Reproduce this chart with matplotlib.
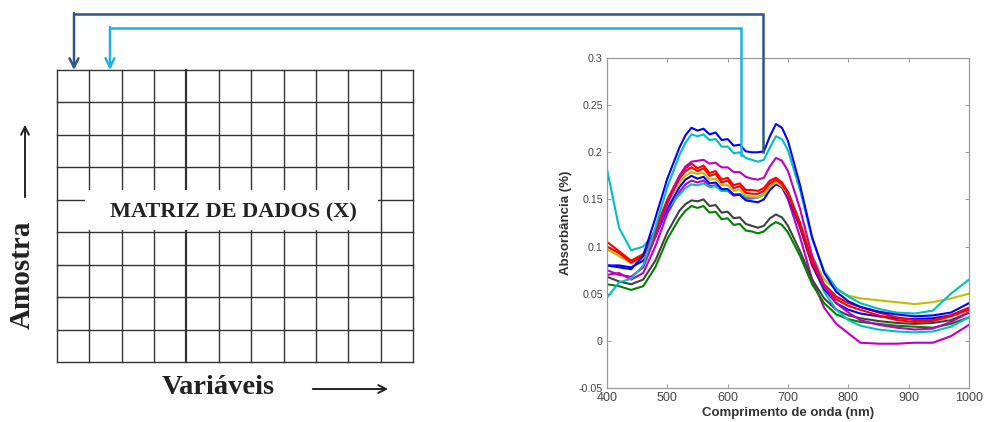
import matplotlib.pyplot as plt
from matplotlib.patches import Rectangle

# comprimentos de onda (nm)
wl = [400, 420, 440, 460, 480, 500, 520, 530, 540, 550, 560, 570, 580, 590, 600, 610, 620, 630, 640,
      650, 660, 670, 680, 690, 700, 720, 740, 760, 780, 800, 820, 850, 880, 910, 940, 970, 1000]

# espectros
blue_a = [0.080, 0.078, 0.076, 0.090, 0.130, 0.172, 0.205, 0.218, 0.226, 0.223, 0.225, 0.219, 0.221, 0.213,
          0.214, 0.207, 0.208, 0.201, 0.200, 0.200, 0.201, 0.217, 0.230, 0.226, 0.212, 0.165, 0.110, 0.072,
          0.052, 0.042, 0.036, 0.031, 0.028, 0.026, 0.027, 0.030, 0.040]
cyan_a = [0.046, 0.062, 0.066, 0.080, 0.120, 0.163, 0.197, 0.210, 0.219, 0.217, 0.219, 0.213, 0.214, 0.206,
          0.206, 0.199, 0.200, 0.194, 0.192, 0.190, 0.192, 0.205, 0.217, 0.214, 0.202, 0.160, 0.108, 0.074,
          0.056, 0.047, 0.040, 0.034, 0.030, 0.029, 0.032, 0.050, 0.065]
magenta_a = [0.075, 0.070, 0.068, 0.078, 0.110, 0.145, 0.175, 0.185, 0.190, 0.191, 0.192, 0.188, 0.189, 0.184,
             0.184, 0.179, 0.179, 0.174, 0.172, 0.171, 0.173, 0.185, 0.194, 0.191, 0.180, 0.140, 0.090, 0.058,
             0.040, 0.030, 0.022, 0.017, 0.014, 0.012, 0.013, 0.020, 0.030]
red_a = [0.105, 0.095, 0.085, 0.092, 0.118, 0.150, 0.175, 0.183, 0.188, 0.183, 0.186, 0.178, 0.180, 0.171,
         0.173, 0.165, 0.167, 0.160, 0.160, 0.159, 0.162, 0.170, 0.173, 0.168, 0.158, 0.125, 0.085, 0.060,
         0.047, 0.040, 0.036, 0.030, 0.025, 0.022, 0.022, 0.027, 0.035]
red_b = [0.100, 0.093, 0.083, 0.090, 0.115, 0.147, 0.172, 0.180, 0.184, 0.180, 0.183, 0.175, 0.177, 0.168,
         0.170, 0.162, 0.164, 0.157, 0.156, 0.156, 0.159, 0.167, 0.171, 0.166, 0.156, 0.122, 0.082, 0.057,
         0.044, 0.037, 0.033, 0.027, 0.022, 0.020, 0.021, 0.026, 0.033]
yellow = [0.097, 0.090, 0.082, 0.088, 0.112, 0.145, 0.168, 0.175, 0.179, 0.177, 0.178, 0.171, 0.172, 0.165,
          0.165, 0.159, 0.160, 0.154, 0.153, 0.152, 0.155, 0.163, 0.168, 0.164, 0.155, 0.125, 0.090, 0.065,
          0.054, 0.048, 0.045, 0.043, 0.041, 0.039, 0.041, 0.045, 0.050]
blue_b = [0.080, 0.080, 0.078, 0.085, 0.110, 0.140, 0.163, 0.171, 0.175, 0.172, 0.174, 0.167, 0.168, 0.161,
          0.161, 0.155, 0.155, 0.149, 0.148, 0.147, 0.150, 0.160, 0.166, 0.163, 0.153, 0.120, 0.080, 0.055,
          0.040, 0.033, 0.029, 0.026, 0.024, 0.023, 0.024, 0.027, 0.035]
cyan_b = [0.182, 0.120, 0.096, 0.100, 0.115, 0.140, 0.155, 0.162, 0.166, 0.165, 0.167, 0.163, 0.164, 0.159,
          0.159, 0.155, 0.156, 0.152, 0.152, 0.152, 0.155, 0.163, 0.170, 0.167, 0.158, 0.125, 0.082, 0.052,
          0.033, 0.022, 0.016, 0.012, 0.010, 0.009, 0.010, 0.015, 0.025]
black = [0.068, 0.063, 0.060, 0.065, 0.085, 0.115, 0.138, 0.145, 0.149, 0.148, 0.150, 0.143, 0.144, 0.136,
         0.137, 0.130, 0.131, 0.124, 0.122, 0.120, 0.122, 0.130, 0.134, 0.131, 0.122, 0.095, 0.065, 0.045,
         0.033, 0.027, 0.024, 0.021, 0.019, 0.018, 0.019, 0.022, 0.030]
green = [0.060, 0.058, 0.054, 0.058, 0.078, 0.108, 0.130, 0.138, 0.143, 0.141, 0.143, 0.136, 0.137, 0.129,
         0.130, 0.123, 0.124, 0.117, 0.116, 0.114, 0.116, 0.122, 0.126, 0.123, 0.115, 0.090, 0.060, 0.040,
         0.028, 0.023, 0.020, 0.018, 0.016, 0.015, 0.014, 0.018, 0.025]
magenta_b = [0.070, 0.072, 0.065, 0.072, 0.100, 0.135, 0.158, 0.166, 0.170, 0.168, 0.170, 0.164, 0.165, 0.159,
             0.159, 0.154, 0.155, 0.151, 0.151, 0.152, 0.155, 0.162, 0.168, 0.163, 0.150, 0.110, 0.065, 0.035,
             0.018, 0.008, -0.002, -0.003, -0.003, -0.002, -0.002, 0.005, 0.017]

spectra = [magenta_b, green, black, cyan_b, blue_b, yellow, red_b, red_a, magenta_a, cyan_a, blue_a]
colors = ['#bf00bf', '#008000', '#404040', '#00bfbf', '#0000ff', '#bfbf00', '#ff0000', '#ff0000',
          '#bf00bf', '#00bfbf', '#0000ff']

yticks = [-0.05, 0, 0.05, 0.1, 0.15, 0.2, 0.25, 0.3]
ytick_labels = ['-0.05', '0', '0.05', '0.1', '0.15', '0.2', '0.25', '0.3']
xticks = [400, 500, 600, 700, 800, 900, 1000]

# pontos onde as setas saem dos espectros (nm, absorbância)
seta_escura = (658, 0.200)
seta_clara = (622, 0.197)

W, H = 985, 422
fig = plt.figure(figsize=(W / 100, H / 100), dpi=100)

# ---- gráfico dos espectros ----
ax = fig.add_axes([607 / W, 1 - 388 / H, 362 / W, 330 / H])
for y, c in zip(spectra, colors):
    ax.plot(wl, y, color=c, linewidth=1.5)
ax.set_xlim(400, 1000)
ax.set_ylim(-0.05, 0.3)
ax.set_xticks(xticks)
ax.set_xticklabels([str(t) for t in xticks])
ax.set_yticks(yticks)
ax.set_yticklabels(ytick_labels)
ax.tick_params(direction='in', length=3, width=0.6, colors='#888888', labelcolor='#444444',
               top=True, right=True)
ax.tick_params(axis='x', labelsize=9, pad=3)
ax.tick_params(axis='y', labelsize=7.7, pad=3)
for s in ax.spines.values():
    s.set_color('#999999')
    s.set_linewidth(0.9)
ax.set_xlabel('Comprimento de onda (nm)', fontsize=9.5, fontweight='bold', color='#333333',
              family='Liberation Sans', labelpad=2)
ax.set_ylabel('Absorbância (%)', fontsize=9.5, fontweight='bold', color='#333333',
              family='Liberation Sans', labelpad=5)
for lab in ax.get_xticklabels() + ax.get_yticklabels():
    lab.set_family('Liberation Sans')

# ---- camada de desenho em pixels (matriz e setas) ----
ov = fig.add_axes([0, 0, 1, 1], zorder=5)
ov.set_xlim(0, W)
ov.set_ylim(H, 0)
ov.axis('off')
ov.patch.set_alpha(0)

n_rows, n_cols = 9, 11
x0, x1, y0, y1 = 57, 413, 70, 362
for i in range(n_cols + 1):
    x = x0 + (x1 - x0) * i / n_cols
    ov.plot([x, x], [y0, y1], color='#333333', linewidth=1.0 if i != 4 else 1.6)
for j in range(n_rows + 1):
    y = y0 + (y1 - y0) * j / n_rows
    ov.plot([x0, x1], [y, y], color='#333333', linewidth=1.0)
ov.add_patch(Rectangle((85, 190), 293, 40, facecolor='white', edgecolor='none', zorder=3))
ov.text(233, 212, 'MATRIZ DE DADOS (X)', ha='center', va='center', fontsize=16, fontweight='bold',
        family='Liberation Serif', color='#222222', zorder=4)

ov.text(22, 275, 'Amostra', rotation=90, ha='center', va='center', fontsize=21, fontweight='bold',
        family='Liberation Serif', color='#222222')
ov.annotate('', xy=(25, 122), xytext=(25, 200),
            arrowprops=dict(arrowstyle='->', color='#222222', lw=1.4, mutation_scale=14))
ov.text(218, 387, 'Variáveis', ha='center', va='center', fontsize=20.5, fontweight='bold',
        family='Liberation Serif', color='#222222')
ov.annotate('', xy=(391, 389), xytext=(310, 389),
            arrowprops=dict(arrowstyle='->', color='#222222', lw=1.4, mutation_scale=14))

# setas ligando os espectros às colunas da matriz
to_px = ov.transData.inverted()
for (lam, a), top, xm, cor in [(seta_escura, 14, 74, '#2f5589'), (seta_clara, 28, 110, '#1fb0e6')]:
    px, py = to_px.transform(ax.transData.transform((lam, a)))
    ov.plot([px, px, xm], [py, top, top], color=cor, linewidth=1.8, solid_joinstyle='miter')
    ov.annotate('', xy=(xm, 70), xytext=(xm, top - 0.9),
                arrowprops=dict(arrowstyle='->', color=cor, lw=1.8, mutation_scale=16,
                                shrinkA=0, shrinkB=0))

fig.savefig('out.png', dpi=100)
